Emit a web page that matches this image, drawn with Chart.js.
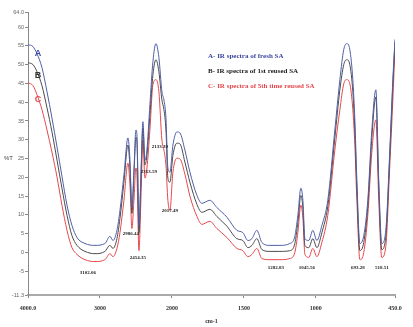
<!DOCTYPE html>
<html>
<head>
<meta charset="utf-8">
<script src="https://cdn.jsdelivr.net/npm/chart.js@4.4.1/dist/chart.umd.min.js"></script>
<style>
html,body{margin:0;padding:0;background:#fff;}
#c{display:block;}
</style>
</head>
<body>
<canvas id="c" width="413" height="327"></canvas>
<script>
// ---- data (wavenumber in cm-1, %T) ----
const wavenumbers = [4000,3931,3875,3806,3736,3667,3597,3528,3458,3389,3319,3208,3069,2931,2861,2819,2764,2722,2667,2611,2583,2556,2528,2500,2486,2458,2431,2403,2375,2347,2306,2264,2222,2181,2139,2111,2083,2056,2028,1993,1965,1944,1910,1875,1826,1792,1736,1688,1618,1549,1507,1472,1444,1410,1375,1319,1250,1181,1146,1125,1104,1090,1076,1049,1021,993,958,917,868,833,806,785,764,743,729,715,694,667,639,611,583,563,542,514,486,465,450];
const freshSA = [55.3,54.8,52.9,49.2,42.8,35.8,28.1,20.3,12.6,7.2,4.0,2.4,1.9,2.4,4.3,3.2,5.9,11.2,20.6,30.5,24.6,11.8,21.9,32.6,31.3,7.2,20.6,34.8,24.6,27.3,39.3,50.8,55.6,51.9,42.8,40.6,35.8,22.5,21.4,28.6,32.1,31.8,27.3,21.4,15.2,13.1,13.9,12.0,9.4,5.9,5.3,3.2,3.7,5.9,2.7,1.9,1.9,2.4,4.3,9.9,17.1,13.9,3.7,3.2,5.9,3.2,7.2,13.9,32.6,46.0,54.0,55.6,54.0,46.0,35.3,19.3,2.4,4.5,13.9,32.6,43.3,19.3,2.4,5.9,27.3,46.0,56.7];
const reused1SA = [50.5,50.0,48.1,44.4,38.5,32.1,24.6,17.1,9.9,4.5,1.9,0.3,-0.3,0.3,1.9,1.1,3.7,9.1,18.7,28.6,22.5,10.4,20.6,30.7,29.4,5.3,19.3,33.2,23.3,26.0,36.6,47.3,51.3,48.1,40.6,38.0,32.6,19.8,18.7,25.9,29.1,28.9,24.1,18.7,12.8,10.7,11.5,9.6,7.0,3.7,3.2,1.3,1.9,3.7,0.8,0.3,0.3,0.5,2.4,8.0,15.2,11.8,1.9,1.3,3.7,1.3,5.3,12.3,30.5,43.3,50.0,51.3,50.0,42.8,32.6,17.1,0.5,2.7,12.3,30.5,41.4,17.6,0.8,4.3,26.0,44.7,56.1];
const reused5SA = [45.2,44.4,42.0,38.0,32.6,26.7,20.1,12.6,5.9,1.3,-0.5,-1.9,-2.4,-1.9,-0.3,-1.1,1.1,5.3,13.9,23.8,17.9,6.4,13.9,22.5,20.6,0.5,13.9,29.9,19.8,22.5,32.6,44.7,46.0,42.8,29.9,27.3,23.3,13.9,11.2,21.4,25.1,24.9,20.9,15.0,9.6,7.5,8.3,6.4,4.0,1.1,0.5,-1.1,-0.5,1.1,-1.6,-1.9,-1.9,-1.6,0.0,5.3,12.6,9.1,-0.5,-1.3,1.1,-1.1,2.7,9.9,27.3,38.0,44.9,46.0,44.9,38.0,28.6,13.9,-1.9,0.0,9.9,26.7,35.3,13.9,-1.3,1.6,23.3,40.6,54.5];
const seriesNames = ["A- IR spectra of fresh SA","B- IR spectra of 1st reused SA","C- IR spectra of 5th time reused SA"];
const curveLetters = ["A","B","C"];
const xTickWavenumbers = [4000,3000,2000,1500,1000,450];
const yTickValues = [-11.3,-5,0,5,10,15,20,25,30,35,40,45,50,55,60,64.0];
const peakLabels = ["3102.06","2986.44","2454.35","2353.59","2133.39","2017.49","1282.83","1045.56","693.28","518.51"];
const peakLabelWn = [3167,2569,2472,2319,2167,2028,1278,1063,708,542];
const peakLabelT  = [-5.3,5.1,-1.3,21.4,28.1,11.2,-4.0,-4.0,-4.0,-4.0];

// piecewise FTIR axis: 4000-2000 compressed, 2000-450 expanded
function toAxis(wn){ return wn >= 2000 ? (4000 - wn) / 2 : 1000 + (2000 - wn); }
function fromAxis(u){ return u <= 1000 ? 4000 - 2*u : 2000 - (u - 1000); }

const colors = ["#4f5fa6","#4a4a4a","#e5484d"];
const letterColors = ["#3b47a0","#333333","#e5484d"];
const seriesData = [freshSA, reused1SA, reused5SA];

const datasets = seriesData.map((vals,i)=>({
  label: seriesNames[i],
  data: wavenumbers.map((w,k)=>({x: toAxis(w), y: vals[k]})),
  borderColor: colors[i],
  borderWidth: 1,
  pointRadius: 0,
  fill: false,
  cubicInterpolationMode: 'monotone'
}));

const textPlugin = {
  id: 'texts',
  afterDraw(chart){
    const ctx = chart.ctx;
    const xs = chart.scales.x, ys = chart.scales.y;
    ctx.save();
    // %T
    ctx.fillStyle = '#444';
    ctx.font = '6px "Liberation Sans"';
    ctx.textAlign = 'left'; ctx.textBaseline = 'middle';
    ctx.fillText('%T', 4, ys.getPixelForValue(25));
    // legend texts
    ctx.font = 'bold 7px "Liberation Serif"';
    const legY = [56, 71, 86];
    const legC = ["#3b47a0","#222222","#e5484d"];
    seriesNames.forEach((n,i)=>{ ctx.fillStyle = legC[i]; ctx.fillText(n, 208, legY[i]); });
    // curve letters
    ctx.font = 'bold 9px "Liberation Sans"';
    ctx.textAlign = 'center';
    const lx = xs.getPixelForValue(toAxis(3875)) + 1;
    const lY = [54, 76, 100];
    curveLetters.forEach((l,i)=>{ ctx.fillStyle = letterColors[i]; ctx.fillText(l, lx, lY[i]); });
    // peak labels
    ctx.font = 'bold 5px "Liberation Serif"';
    ctx.fillStyle = '#222';
    peakLabels.forEach((t,i)=>{
      ctx.fillText(t, xs.getPixelForValue(toAxis(peakLabelWn[i])), ys.getPixelForValue(peakLabelT[i]));
    });
    ctx.restore();
  }
};

new Chart(document.getElementById('c'), {
  type: 'line',
  data: { datasets },
  plugins: [textPlugin],
  options: {
    responsive: false,
    animation: false,
    devicePixelRatio: 1,
    layout: { padding: { left: 0, right: 18, top: 12, bottom: 0 } },
    plugins: { legend: { display: false }, tooltip: { enabled: false } },
    scales: {
      x: {
        type: 'linear', min: 0, max: 2550,
        afterBuildTicks(s){ s.ticks = xTickWavenumbers.map(w=>({value: toAxis(w)})); },
        afterFit(s){ s.height = 32; },
        ticks: {
          autoSkip: false, maxRotation: 0, padding: 7, color: '#333',
          font: { family: '"Liberation Serif"', size: 6, weight: 'bold' },
          callback(v){ const w = Math.round(fromAxis(v)); return (w===4000||w===450) ? w.toFixed(1) : String(w); }
        },
        grid: { display: true, drawOnChartArea: false, drawTicks: true, tickLength: 3, color: '#888' },
        border: { display: true, color: '#aaa', width: 2 },
        title: { display: true, text: 'cm-1', color: '#333', font: { family: '"Liberation Serif"', size: 6, weight: 'bold' }, padding: { top: 0, bottom: 2 } }
      },
      y: {
        type: 'linear', min: -11.3, max: 64.0,
        afterBuildTicks(s){ s.ticks = yTickValues.map(v=>({value: v})); },
        afterFit(s){ s.width = 28; },
        ticks: {
          autoSkip: false, padding: 1, color: '#666',
          font: { family: '"Liberation Sans"', size: 5.5 },
          callback(v){ return (v===64 || v===-11.3) ? v.toFixed(1) : String(v); }
        },
        grid: { display: true, drawOnChartArea: false, drawTicks: true, tickLength: 3, color: '#888' },
        border: { display: true, color: '#888', width: 1 }
      }
    }
  }
});
</script>
</body>
</html>
